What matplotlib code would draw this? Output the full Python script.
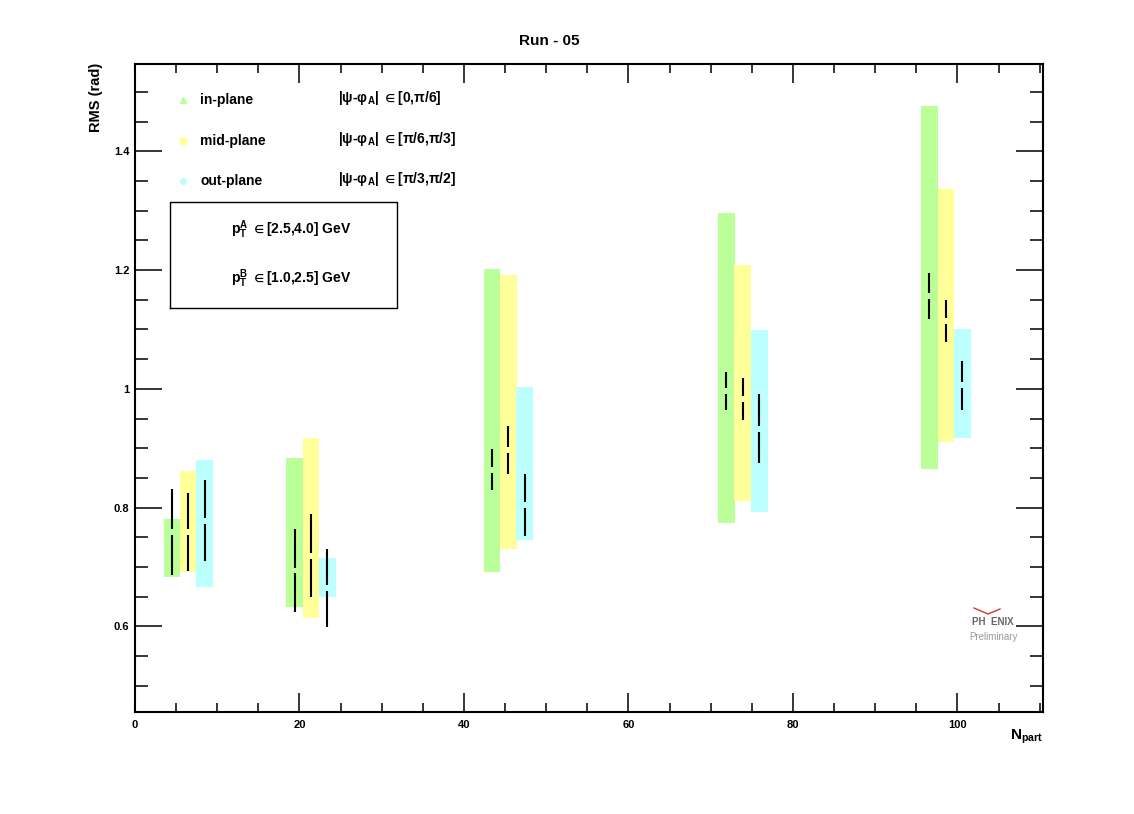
# Run-05 RMS vs N_part, in/mid/out-plane, ROOT style figure

import matplotlib
matplotlib.use("Agg")
import matplotlib.pyplot as plt
from matplotlib.ticker import MultipleLocator, FuncFormatter
from matplotlib.lines import Line2D

plt.rcParams['font.family'] = ['Liberation Sans', 'DejaVu Sans']
plt.rcParams['font.weight'] = 'bold'
plt.rcParams['mathtext.fontset'] = 'custom'
plt.rcParams['mathtext.rm'] = 'Liberation Sans:bold'
plt.rcParams['mathtext.it'] = 'Liberation Sans:bold'
plt.rcParams['mathtext.bf'] = 'Liberation Sans:bold'
plt.rcParams['mathtext.default'] = 'rm'
plt.rcParams['mathtext.fallback'] = 'stixsans'

# ============================================================
# DATA
# ============================================================

labels = ["in-plane", "mid-plane", "out-plane"]
ranges = [r"|ψ-φ$_{A}$| ${\in}$[0,π/6]", r"|ψ-φ$_{A}$| ${\in}$[π/6,π/3]", r"|ψ-φ$_{A}$| ${\in}$[π/3,π/2]"]
colors = ["#bbff99", "#ffff99", "#bbffff"]
markers = ["^", "s", "o"]

# in-plane
npart_in = [4.5, 19.4, 43.4, 71.9, 96.6]
rms_in = [0.759, 0.694, 0.864, 0.997, 1.156]
err_in = [0.072, 0.070, 0.035, 0.032, 0.039]
sys_lo_in = [0.684, 0.633, 0.692, 0.775, 0.865]
sys_hi_in = [0.781, 0.884, 1.202, 1.296, 1.477]

# mid-plane
npart_mid = [6.5, 21.4, 45.4, 73.9, 98.6]
rms_mid = [0.759, 0.719, 0.897, 0.983, 1.114]
err_mid = [0.065, 0.070, 0.041, 0.036, 0.035]
sys_lo_mid = [0.692, 0.614, 0.731, 0.811, 0.910]
sys_hi_mid = [0.862, 0.917, 1.191, 1.209, 1.336]

# out-plane
npart_out = [8.5, 23.4, 47.4, 75.9, 100.6]
rms_out = [0.778, 0.665, 0.804, 0.933, 1.006]
err_out = [0.068, 0.066, 0.052, 0.058, 0.041]
sys_lo_out = [0.667, 0.650, 0.745, 0.793, 0.918]
sys_hi_out = [0.880, 0.716, 1.004, 1.099, 1.101]

series = [
    (npart_in, rms_in, err_in, sys_lo_in, sys_hi_in),
    (npart_mid, rms_mid, err_mid, sys_lo_mid, sys_hi_mid),
    (npart_out, rms_out, err_out, sys_lo_out, sys_hi_out),
]

# ============================================================
# FIGURE
# ============================================================

W, H = 1134, 814
fig = plt.figure(figsize=(W / 100, H / 100), dpi=100)
ax = fig.add_axes([135 / W, 1 - 712 / H, 908 / W, 648 / H])

box_w = 2.05
gap = 0.0048  # half height of the marker gap in the error bar

for (x, y, e, lo, hi), c in zip(series, colors):
    heights = [h - l for l, h in zip(lo, hi)]
    ax.bar(x, heights, bottom=lo, width=box_w, color=c, edgecolor='none', zorder=1)
    ax.vlines(x, [v + gap for v in y], [v + d for v, d in zip(y, e)],
              color='black', linewidth=1.5, zorder=3)
    ax.vlines(x, [v - d for v, d in zip(y, e)], [v - gap for v in y],
              color='black', linewidth=1.5, zorder=3)

ax.set_xlim(0, 110.4)
ax.set_ylim(0.456, 1.547)

ax.xaxis.set_major_locator(MultipleLocator(20))
ax.xaxis.set_minor_locator(MultipleLocator(5))
ax.yaxis.set_major_locator(MultipleLocator(0.2))
ax.yaxis.set_minor_locator(MultipleLocator(0.05))
ax.yaxis.set_major_formatter(FuncFormatter(lambda v, p: f"{v:g}"))

ax.tick_params(which='both', direction='in', top=True, right=True,
               width=1.1, labelsize=8)
ax.tick_params(axis='y', which='major', length=19.4, pad=4)
ax.tick_params(axis='y', which='minor', length=9.4)
ax.tick_params(axis='x', which='major', length=13.7, pad=6)
ax.tick_params(axis='x', which='minor', length=6.5)
for s in ax.spines.values():
    s.set_linewidth(1.5)

# titles and axis labels
fig.text(549 / W, 1 - 41 / H, "Run - 05", ha='center', va='center', fontsize=11)
fig.text(96 / W, 1 - 63 / H, "RMS (rad)", rotation=90, ha='center', va='top', fontsize=10.5)
fig.text(1043 / W, 1 - 728 / H, r"N$_{part}$", ha='right', va='top', fontsize=11)

# ============================================================
# LEGEND
# ============================================================

leg_y = [0.944, 0.881, 0.819]
for lab, rng, c, m, yy in zip(labels, ranges, colors, markers, leg_y):
    ax.plot([0.053], [yy], marker=m, markersize=4, color=c, linestyle='none',
            transform=ax.transAxes, clip_on=False)
    ax.text(0.0716, yy, lab, transform=ax.transAxes, va='center', fontsize=10)
    ax.text(0.2236, yy + 0.003, rng, transform=ax.transAxes, va='center', fontsize=10)

# pT box
box_x0, box_x1 = 0.0385, 0.2885
box_y0, box_y1 = 0.6235, 0.787
ax.add_line(Line2D([box_x0, box_x1, box_x1, box_x0, box_x0],
                   [box_y0, box_y0, box_y1, box_y1, box_y0],
                   transform=ax.transAxes, color='black', linewidth=1.0))
ax.text(0.172, 0.745, r"p$_{T}^{A}$ ${\in}$[2.5,4.0] GeV", transform=ax.transAxes,
        ha='center', va='center', fontsize=10)
ax.text(0.172, 0.668, r"p$_{T}^{B}$ ${\in}$[1.0,2.5] GeV", transform=ax.transAxes,
        ha='center', va='center', fontsize=10)

# PHENIX preliminary logo (approximation)
fig.text(993 / W, 1 - 622 / H, "PH  ENIX", ha='center', va='center', fontsize=7,
         color='#666666', fontstretch='condensed')
fig.text(993 / W, 1 - 637 / H, "Preliminary", ha='center', va='center', fontsize=7,
         color='#999999', fontweight='normal')
fig.add_artist(Line2D([974 / W, 988 / W, 1000 / W], [1 - 608 / H, 1 - 614 / H, 1 - 609 / H],
                      color='#dd3333', linewidth=1.0))

fig.savefig("out.png", dpi=100, facecolor='white')
